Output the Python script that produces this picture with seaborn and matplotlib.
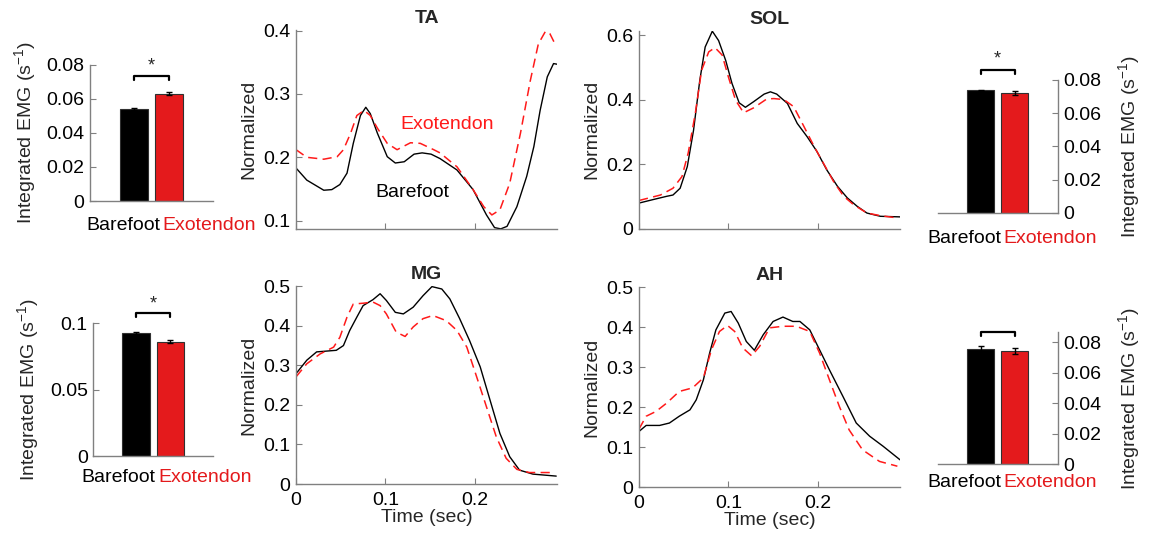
import matplotlib
matplotlib.use("Agg")
import matplotlib.pyplot as plt
import seaborn as sns
from matplotlib.ticker import FuncFormatter

sns.set_style("ticks")
plt.rcParams['font.family'] = ['Liberation Sans', 'DejaVu Sans']
plt.rcParams['mathtext.default'] = 'regular'
plt.rcParams['font.size'] = 14

# ---- data ----
groups = ["Barefoot", "Exotendon"]

# integrated EMG bars (mean, error)
ta_bar = [0.0541, 0.0629]
ta_err = [0.0005, 0.0009]
sol_bar = [0.0736, 0.0720]
sol_err = [0.0006, 0.0010]
mg_bar = [0.0923, 0.0862]
mg_err = [0.0008, 0.0012]
ah_bar = [0.0754, 0.0741]
ah_err = [0.0022, 0.0020]

# TA normalized EMG
ta_t_bare = [0.000, 0.012, 0.031, 0.040, 0.049, 0.057, 0.064, 0.072, 0.078, 0.083, 0.091, 0.102,
             0.111, 0.121, 0.132, 0.141, 0.151, 0.161, 0.180, 0.198, 0.213, 0.222, 0.229, 0.236,
             0.247, 0.258, 0.266, 0.273, 0.281, 0.288, 0.292]
ta_bare = [0.183, 0.164, 0.148, 0.149, 0.157, 0.175, 0.222, 0.266, 0.279, 0.269, 0.238, 0.201,
           0.191, 0.193, 0.205, 0.207, 0.205, 0.198, 0.180, 0.149, 0.109, 0.089, 0.087, 0.091,
           0.122, 0.170, 0.217, 0.274, 0.327, 0.348, 0.347]
ta_t_exo = [0.000, 0.012, 0.031, 0.046, 0.053, 0.061, 0.068, 0.076, 0.083, 0.091, 0.102, 0.113,
            0.128, 0.139, 0.154, 0.161, 0.180, 0.198, 0.210, 0.219, 0.228, 0.239, 0.251, 0.262,
            0.271, 0.279, 0.284, 0.290]
ta_exo = [0.212, 0.200, 0.197, 0.201, 0.212, 0.238, 0.266, 0.274, 0.266, 0.246, 0.222, 0.212,
          0.223, 0.222, 0.212, 0.207, 0.185, 0.149, 0.122, 0.109, 0.117, 0.159, 0.238, 0.321,
          0.379, 0.399, 0.395, 0.378]

# SOL
sol_t_bare = [0.000, 0.016, 0.031, 0.038, 0.046, 0.054, 0.061, 0.068, 0.074, 0.082, 0.089, 0.097,
              0.104, 0.112, 0.119, 0.128, 0.140, 0.147, 0.154, 0.166, 0.177, 0.188, 0.199, 0.210,
              0.222, 0.233, 0.244, 0.255, 0.270, 0.294]
sol_bare = [0.080, 0.091, 0.101, 0.105, 0.126, 0.193, 0.306, 0.461, 0.564, 0.613, 0.584, 0.522,
            0.451, 0.391, 0.377, 0.394, 0.418, 0.425, 0.418, 0.389, 0.327, 0.286, 0.240, 0.183,
            0.132, 0.096, 0.070, 0.049, 0.039, 0.037]
sol_t_exo = [0.000, 0.024, 0.038, 0.048, 0.055, 0.063, 0.070, 0.078, 0.085, 0.093, 0.100, 0.108,
             0.117, 0.128, 0.143, 0.151, 0.162, 0.173, 0.184, 0.196, 0.207, 0.218, 0.229,
             0.240, 0.255, 0.270, 0.289]
sol_exo = [0.088, 0.105, 0.126, 0.162, 0.235, 0.359, 0.492, 0.549, 0.562, 0.539, 0.471, 0.399,
           0.360, 0.375, 0.403, 0.404, 0.401, 0.379, 0.320, 0.255, 0.200, 0.145, 0.101,
           0.075, 0.049, 0.041, 0.034]

# MG
mg_t_bare = [0.000, 0.012, 0.023, 0.034, 0.045, 0.053, 0.060, 0.068, 0.075, 0.086, 0.094, 0.101,
             0.111, 0.120, 0.131, 0.142, 0.152, 0.163, 0.172, 0.183, 0.194, 0.206, 0.217, 0.228,
             0.239, 0.250, 0.265, 0.291]
mg_bare = [0.279, 0.313, 0.334, 0.336, 0.338, 0.350, 0.388, 0.422, 0.451, 0.466, 0.481, 0.464,
           0.434, 0.430, 0.447, 0.476, 0.499, 0.493, 0.468, 0.418, 0.363, 0.296, 0.212, 0.128,
           0.069, 0.035, 0.025, 0.020]
mg_t_exo = [0.000, 0.012, 0.027, 0.042, 0.049, 0.057, 0.064, 0.075, 0.086, 0.094, 0.101, 0.112,
            0.122, 0.131, 0.142, 0.153, 0.168, 0.180, 0.191, 0.202, 0.213, 0.224, 0.235, 0.247,
            0.261, 0.288]
mg_exo = [0.271, 0.304, 0.329, 0.346, 0.371, 0.422, 0.455, 0.457, 0.460, 0.451, 0.430, 0.384,
          0.373, 0.397, 0.418, 0.426, 0.413, 0.388, 0.346, 0.271, 0.195, 0.119, 0.065, 0.037,
          0.029, 0.029]

# AH
ah_t_bare = [0.000, 0.008, 0.023, 0.034, 0.045, 0.057, 0.064, 0.072, 0.079, 0.086, 0.096, 0.103,
             0.111, 0.120, 0.129, 0.139, 0.150, 0.161, 0.172, 0.180, 0.191, 0.202, 0.213, 0.228,
             0.243, 0.258, 0.273, 0.292]
ah_bare = [0.139, 0.154, 0.154, 0.160, 0.177, 0.193, 0.218, 0.268, 0.335, 0.393, 0.435, 0.439,
           0.410, 0.364, 0.342, 0.381, 0.414, 0.425, 0.414, 0.414, 0.393, 0.343, 0.293, 0.227,
           0.160, 0.127, 0.102, 0.068]
ah_t_exo = [0.000, 0.008, 0.019, 0.031, 0.045, 0.060, 0.072, 0.081, 0.090, 0.099, 0.107, 0.116,
            0.126, 0.135, 0.146, 0.161, 0.176, 0.191, 0.202, 0.213, 0.224, 0.235, 0.250, 0.269,
            0.289]
ah_exo = [0.145, 0.177, 0.189, 0.210, 0.239, 0.248, 0.273, 0.343, 0.389, 0.404, 0.389, 0.348,
          0.328, 0.352, 0.398, 0.402, 0.402, 0.389, 0.335, 0.268, 0.202, 0.143, 0.093, 0.064,
          0.052]

BLACK = "#000000"
BAR_RED = "#E41A1C"
LINE_RED = "#FF1A1A"
SPINE = "#808080"
FS = 14
fmt = FuncFormatter(lambda v, p: f"{v:g}")

fig = plt.figure(figsize=(11.52, 5.36), dpi=100)


def style_axes(ax, right=False):
    for s in ["top", "right", "left", "bottom"]:
        ax.spines[s].set_visible(False)
    ax.spines["bottom"].set_visible(True)
    ax.spines["right" if right else "left"].set_visible(True)
    for s in ax.spines.values():
        s.set_color(SPINE)
        s.set_linewidth(1.0)
    ax.tick_params(direction="in", length=4, color=SPINE, labelsize=FS, labelcolor="k", pad=4)


def bar_panel(rect, vals, errs, ylim, yticks, right, bracket, star, lab_y, split):
    ax = fig.add_axes(rect)
    sns.barplot(x=groups, y=vals, hue=groups, palette=[BLACK, BAR_RED], ax=ax, saturation=1,
                width=0.8, edgecolor="#303030", linewidth=0.8, legend=False)
    ax.errorbar([0, 1], vals, yerr=errs, fmt="none", ecolor="k", elinewidth=1, capsize=2.5)
    ax.set_xlim(-1.25, 2.25)
    ax.set_ylim(*ylim)
    ax.set_yticks(yticks)
    ax.yaxis.set_major_formatter(fmt)
    ax.set_xticks([])
    ax.set_xlabel("")
    style_axes(ax, right)
    lab = "Integrated EMG (s$^{-1}$)"
    if right:
        ax.yaxis.tick_right()
        ax.yaxis.set_label_position("right")
        ax.set_ylabel(lab, fontsize=FS, labelpad=11)
    else:
        ax.set_ylabel(lab, fontsize=FS, labelpad=6)
    # significance bracket
    y_top, y_low = bracket
    ax.plot([0, 0, 1, 1], [y_low, y_top, y_top, y_low], color="k", lw=1.6, clip_on=False)
    if star is not None:
        ax.text(0.5, star, "*", ha="center", va="center", fontsize=13, clip_on=False)
    ax.text(split, lab_y, "Barefoot", ha="right", va="center", color="k",
            fontsize=FS, transform=ax.transAxes)
    ax.text(split + 0.02, lab_y, "Exotendon", ha="left", va="center", color=BAR_RED,
            fontsize=FS, transform=ax.transAxes)
    return ax


def line_panel(rect, tb, vb, te, ve, title, ylim, yticks, xlab):
    ax = fig.add_axes(rect)
    sns.lineplot(x=tb, y=vb, ax=ax, color="k", lw=1.0, estimator=None)
    sns.lineplot(x=te, y=ve, ax=ax, color=LINE_RED, lw=1.1, estimator=None,
                 linestyle=(0, (6, 3.5)))
    ax.set_xlim(0, 0.292)
    ax.set_ylim(*ylim)
    ax.set_yticks(yticks)
    ax.set_xticks([0, 0.1, 0.2])
    ax.yaxis.set_major_formatter(fmt)
    ax.xaxis.set_major_formatter(fmt)
    style_axes(ax)
    ax.tick_params(axis="x", pad=6)
    ax.set_title(title, fontweight="bold", fontsize=FS, pad=5)
    ax.set_ylabel("Normalized", fontsize=FS, labelpad=4)
    if xlab:
        ax.set_xlabel("Time (sec)", fontsize=FS, labelpad=0)
    else:
        ax.tick_params(labelbottom=False)
        ax.set_xlabel("")
    return ax


# top row
bar_panel([0.078, 0.625, 0.107, 0.254], ta_bar, ta_err, (0, 0.08), [0, 0.02, 0.04, 0.06, 0.08],
          False, (0.0735, 0.0712), 0.0795, -0.18, 0.57)
ax_ta = line_panel([0.257, 0.573, 0.2266, 0.371], ta_t_bare, ta_bare, ta_t_exo, ta_exo,
                   "TA", (0.087, 0.401), [0.1, 0.2, 0.3, 0.4], False)
ax_ta.text(0.169, 0.252, "Exotendon", color=LINE_RED, ha="center", va="center", fontsize=FS)
ax_ta.text(0.130, 0.145, "Barefoot", color="k", ha="center", va="center", fontsize=FS)
line_panel([0.5547, 0.573, 0.2266, 0.370], sol_t_bare, sol_bare, sol_t_exo, sol_exo,
           "SOL", (0, 0.615), [0, 0.2, 0.4, 0.6], False)
bar_panel([0.814, 0.603, 0.104, 0.248], sol_bar, sol_err, (0, 0.08), [0, 0.02, 0.04, 0.06, 0.08],
          True, (0.086, 0.0838), 0.0925, -0.19, 0.53)

# bottom row
bar_panel([0.081, 0.149, 0.104, 0.248], mg_bar, mg_err, (0, 0.1), [0, 0.05, 0.1],
          False, (0.1075, 0.1045), 0.1145, -0.16, 0.52)
line_panel([0.257, 0.097, 0.2266, 0.369], mg_t_bare, mg_bare, mg_t_exo, mg_exo,
           "MG", (0, 0.5), [0, 0.1, 0.2, 0.3, 0.4, 0.5], True)
line_panel([0.5547, 0.0914, 0.2266, 0.373], ah_t_bare, ah_bare, ah_t_exo, ah_exo,
           "AH", (0, 0.5), [0, 0.1, 0.2, 0.3, 0.4, 0.5], True)
bar_panel([0.814, 0.134, 0.104, 0.246], ah_bar, ah_err, (0, 0.0866), [0, 0.02, 0.04, 0.06, 0.08],
          True, (0.0868, 0.0839), None, -0.14, 0.53)

fig.savefig("out.png", dpi=100, facecolor="white")
